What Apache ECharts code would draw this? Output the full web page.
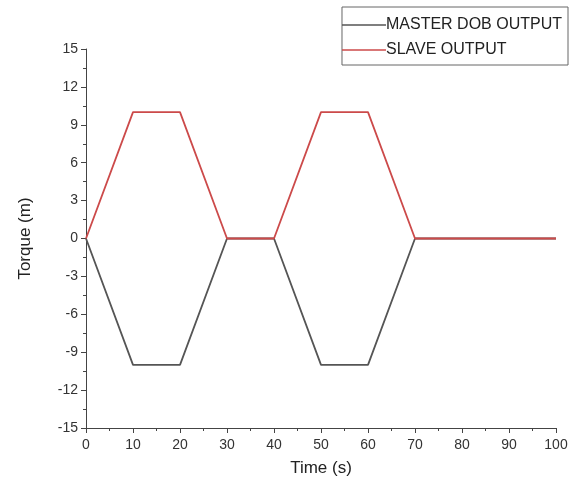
<!DOCTYPE html>
<html>
<head>
<meta charset="utf-8">
<script src="https://cdn.jsdelivr.net/npm/echarts@6/dist/echarts.min.js"></script>
<style>html,body{margin:0;padding:0;background:#fff;}#c{width:575px;height:490px;}</style>
</head>
<body>
<div id="c"></div>
<script>
const time = [0, 10, 20, 30, 40, 50, 60, 70, 80, 90, 100];
const masterOutput = [0, -10, -10, 0, 0, -10, -10, 0, 0, 0, 0];
const slaveOutput = [0, 10, 10, 0, 0, 10, 10, 0, 0, 0, 0];
const seriesNames = ['MASTER DOB OUTPUT', 'SLAVE OUTPUT'];
const xTitle = 'Time (s)';
const yTitle = 'Torque (m)';

const chart = echarts.init(document.getElementById('c'));
const font = 'Liberation Sans, Arial, sans-serif';
const axisColor = '#444';
chart.setOption({
  animation: false,
  backgroundColor: '#fff',
  grid: { left: 86, right: 19, top: 49, bottom: 62 },
  legend: {
    orient: 'vertical',
    right: 7, top: 7,
    borderColor: '#666', borderWidth: 1,
    padding: [10, 6, 7, 0],
    icon: 'rect',
    itemWidth: 44, itemHeight: 1.5, itemGap: 9,
    textStyle: { fontFamily: font, fontSize: 16, color: '#222', padding: [0, 0, 0, -5] },
    data: seriesNames
  },
  xAxis: {
    type: 'value', min: 0, max: 100, interval: 10,
    name: xTitle, nameLocation: 'middle', nameGap: 32,
    nameTextStyle: { fontFamily: font, fontSize: 17, color: '#222' },
    axisLine: { show: true, onZero: false, lineStyle: { color: axisColor, width: 1 } },
    axisTick: { show: true, inside: false, length: 5, lineStyle: { color: axisColor } },
    minorTick: { show: true, splitNumber: 2, length: 3, lineStyle: { color: axisColor } },
    axisLabel: { fontFamily: font, fontSize: 14, color: '#333', margin: 10 },
    splitLine: { show: false }
  },
  yAxis: {
    type: 'value', min: -15, max: 15, interval: 3,
    name: yTitle, nameLocation: 'middle', nameGap: 52, nameRotate: 90,
    nameTextStyle: { fontFamily: font, fontSize: 17, color: '#222' },
    axisLine: { show: true, onZero: false, lineStyle: { color: axisColor, width: 1 } },
    axisTick: { show: true, inside: false, length: 5, lineStyle: { color: axisColor } },
    minorTick: { show: true, splitNumber: 2, length: 3, lineStyle: { color: axisColor } },
    axisLabel: { fontFamily: font, fontSize: 14, color: '#333', margin: 8 },
    splitLine: { show: false }
  },
  series: [
    {
      name: seriesNames[0], type: 'line', symbol: 'none',
      data: time.map((t, i) => [t, masterOutput[i]]),
      lineStyle: { color: '#555555', width: 1.8 },
      itemStyle: { color: '#555555' }
    },
    {
      name: seriesNames[1], type: 'line', symbol: 'none',
      data: time.map((t, i) => [t, slaveOutput[i]]),
      lineStyle: { color: '#cc4a4a', width: 1.8 },
      itemStyle: { color: '#cc4a4a' }
    }
  ]
});
</script>
</body>
</html>
